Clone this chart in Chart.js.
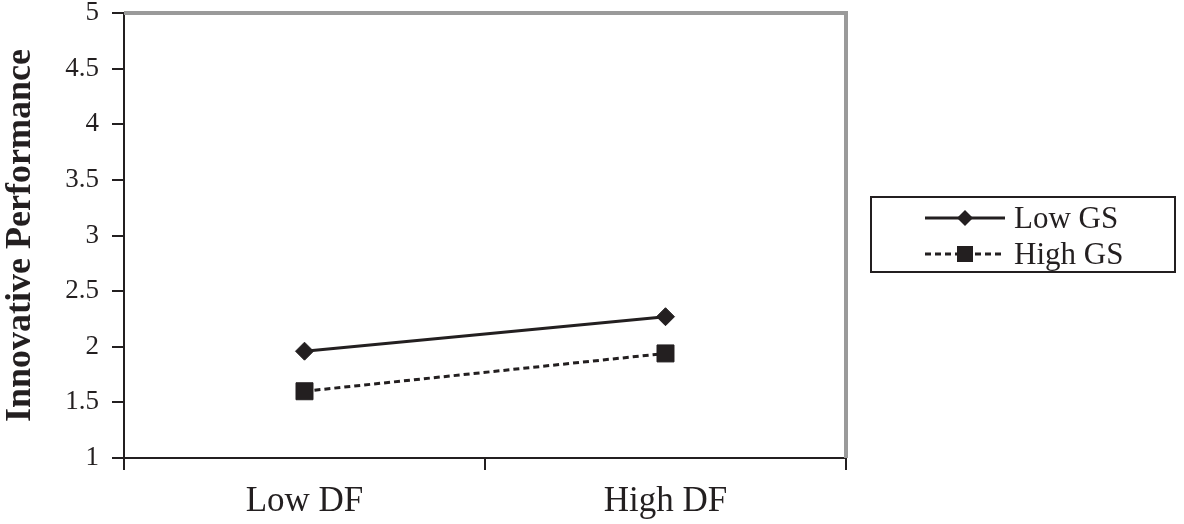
<!DOCTYPE html>
<html>
<head>
<meta charset="utf-8">
<script src="https://cdn.jsdelivr.net/npm/chart.js@4.4.1/dist/chart.umd.min.js"></script>
<style>
  html, body { margin: 0; padding: 0; background: #fff; }
  #wrap { position: relative; width: 1184px; height: 524px; }
  #legend {
    position: absolute; left: 870px; top: 196px; width: 302px; height: 73px;
    border: 2px solid #231f20; font-family: "Liberation Serif", "Times New Roman", serif;
    font-size: 31px; color: #231f20;
  }
  .row { position: absolute; left: 52px; height: 36px; display: flex; align-items: center; }
  .row svg { margin-right: 8px; }
</style>
</head>
<body>
<div id="wrap">
  <canvas id="chart" width="1184" height="524"></canvas>
  <div id="legend">
    <div class="row" style="top:2px">
      <svg width="82" height="20"><line x1="1" y1="10" x2="81" y2="10" stroke="#231f20" stroke-width="3"/><polygon points="41,2 49,10 41,18 33,10" fill="#231f20"/></svg>Low GS
    </div>
    <div class="row" style="top:38px">
      <svg width="82" height="20"><line x1="1" y1="10" x2="81" y2="10" stroke="#231f20" stroke-width="3" stroke-dasharray="6,4"/><rect x="33" y="2" width="16" height="16" fill="#231f20"/></svg>High GS
    </div>
  </div>
</div>
<script>
// --- data ---
const categories = ['Low DF', 'High DF'];
const lowGS = [1.96, 2.27];
const highGS = [1.60, 1.94];
const yTicks = [1, 1.5, 2, 2.5, 3, 3.5, 4, 4.5, 5];

const ink = '#231f20';
const serif = '"Liberation Serif", "Times New Roman", serif';

// top + right frame lines in grey
const frame = {
  id: 'frame',
  beforeDatasetsDraw(chart) {
    const a = chart.chartArea, c = chart.ctx;
    c.save();
    c.strokeStyle = '#9a9a9a';
    c.lineWidth = 4;
    c.beginPath();
    c.moveTo(a.left, a.top);
    c.lineTo(a.right, a.top);
    c.lineTo(a.right, a.bottom);
    c.stroke();
    c.restore();
  }
};

const ctx = document.getElementById('chart').getContext('2d');
new Chart(ctx, {
  type: 'line',
  data: {
    labels: categories,
    datasets: [
      {
        label: 'Low GS',
        data: lowGS,
        borderColor: ink,
        backgroundColor: ink,
        borderWidth: 3,
        pointStyle: 'rectRot',
        pointRadius: 9,
        pointBorderWidth: 1,
        fill: false
      },
      {
        label: 'High GS',
        data: highGS,
        borderColor: ink,
        backgroundColor: ink,
        borderWidth: 3,
        borderDash: [6, 4],
        pointStyle: 'rect',
        pointRadius: 12,
        pointBorderWidth: 1,
        fill: false
      }
    ]
  },
  options: {
    responsive: false,
    animation: false,
    layout: { padding: { left: 0, top: 11, right: 338, bottom: 0 } },
    plugins: { legend: { display: false }, tooltip: { enabled: false } },
    scales: {
      x: {
        offset: true,
        grid: { offset: true, drawOnChartArea: false, color: ink, lineWidth: 2, tickLength: 12 },
        border: { display: true, color: ink, width: 2 },
        ticks: { color: ink, font: { family: serif, size: 35 }, padding: 11 },
        afterFit(axis) { axis.height = 66; axis.paddingLeft = 0; axis.paddingRight = 0; }
      },
      y: {
        min: 1,
        max: 5,
        afterBuildTicks(axis) { axis.ticks = yTicks.map(v => ({ value: v })); },
        grid: { drawOnChartArea: false, color: ink, lineWidth: 2, tickLength: 12 },
        border: { display: true, color: ink, width: 2 },
        ticks: {
          color: ink,
          font: { family: serif, size: 27 },
          padding: 13,
          callback: v => String(v)
        },
        title: {
          display: true,
          text: 'Innovative Performance',
          color: ink,
          font: { family: serif, size: 36, weight: 'bold', lineHeight: 1.15 },
          padding: { top: 0, bottom: 0 }
        },
        afterFit(axis) { axis.width = 124; axis.paddingTop = 0; axis.paddingBottom = 0; }
      }
    }
  },
  plugins: [frame]
});
</script>
</body>
</html>
